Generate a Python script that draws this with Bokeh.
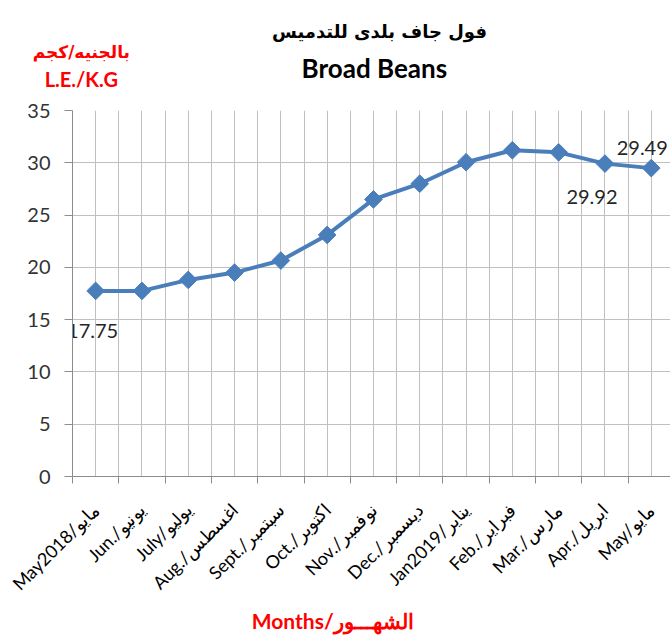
import math
from bokeh.plotting import figure
from bokeh.layouts import column
from bokeh.models import Range1d, FixedTicker, Label, ColumnDataSource
from bokeh.core.properties import value
from bokeh.embed import file_html
from bokeh.resources import INLINE

months = ["May2018/مايو", "Jun./يونيو", "July/يوليو", "Aug./اغسطس", "Sept./سبتمبر",
          "Oct./اكتوبر", "Nov./نوفمبر", "Dec./ديسمبر", "Jan2019/يناير", "Feb./فبراير",
          "Mar./مارس", "Apr./ابريل", "May/مايو"]
prices = [17.75, 17.75, 18.8, 19.5, 20.65, 23.1, 26.5, 28.0, 30.05, 31.2, 31.0, 29.92, 29.49]
labelled_idx = [0, 11, 12]
labelled_text = ["17.75", "29.92", "29.49"]
y_ticks = [0, 5, 10, 15, 20, 25, 30, 35]

title_ar = "فول جاف بلدى للتدميس"
title_en = "Broad Beans"
unit_ar = "بالجنيه/كجم"
unit_en = "L.E./K.G"
x_title = "Months/الشهـــور"

xs = list(range(len(months)))

W = 670
PX_PER_CAT = 46.3
PX_PER_UNIT = 366 / 35.0
X0 = -0.5
X1 = X0 + (W - 72) / PX_PER_CAT
XL = X0 - 72 / PX_PER_CAT
TOP_PAD = 12

GRID = "#c0c0c0"
AXIS = "#8c8c8c"
BLUE = "#4a7ebb"
RED = "#ff0000"


def no_align(fig):
    if "frame_align" in fig.properties():
        fig.frame_align = False


# ---------- header (titles) ----------
head_h = 110 - TOP_PAD
head = figure(width=W, height=head_h, output_backend="svg", toolbar_location=None, title=None,
              x_range=Range1d(XL, X1),
              y_range=Range1d(35 + TOP_PAD / PX_PER_UNIT, 35 + 110 / PX_PER_UNIT),
              x_axis_type=None, y_axis_type=None, min_border=0)
head.outline_line_color = None
head.grid.visible = False
no_align(head)


def add_label(fig, x, y, text, size, color, font="Lato"):
    fig.add_layout(Label(x=x, y=y, text=text, text_align="center", text_baseline="middle",
                         text_font=font, text_font_size=size, text_font_style="bold",
                         text_color=color))


add_label(head, 6.13, 42.55, title_ar, "18px", "black", "DejaVu Sans")
add_label(head, 6.02, 39.11, title_en, "26px", "black")
add_label(head, -0.31, 40.64, unit_ar, "17px", RED, "DejaVu Sans")
add_label(head, -0.31, 37.97, unit_en, "20px", RED)

# ---------- main chart ----------
p_main = figure(width=W, height=TOP_PAD + 366 + 130, output_backend="svg",
                toolbar_location=None, title=None,
                x_range=Range1d(X0, X1), y_range=Range1d(0, 35),
                min_border_left=72, min_border_right=0, min_border_top=TOP_PAD,
                min_border_bottom=130)
p_main.outline_line_color = None

p_main.xaxis.ticker = FixedTicker(ticks=xs, minor_ticks=[i - 0.5 for i in range(len(months) + 1)])
p_main.xaxis.major_label_overrides = {i: m for i, m in enumerate(months)}
p_main.xaxis.major_label_orientation = math.pi / 4
p_main.xaxis.major_tick_line_color = None
p_main.xaxis.major_tick_out = 0
p_main.xaxis.major_tick_in = 0
p_main.xaxis.minor_tick_out = 7
p_main.xaxis.minor_tick_in = 0
p_main.xaxis.minor_tick_line_color = AXIS
p_main.xaxis.axis_line_color = AXIS
p_main.xaxis.major_label_standoff = 23
p_main.xaxis.major_label_text_font = "Lato"
p_main.xaxis.major_label_text_font_size = "18px"
p_main.xaxis.major_label_text_color = "black"

p_main.yaxis.ticker = FixedTicker(ticks=y_ticks)
p_main.yaxis.minor_tick_line_color = None
p_main.yaxis.major_tick_out = 8
p_main.yaxis.major_tick_in = 0
p_main.yaxis.major_tick_line_color = AXIS
p_main.yaxis.axis_line_color = AXIS
p_main.yaxis.major_label_standoff = 14
p_main.yaxis.major_label_text_font = "Lato"
p_main.yaxis.major_label_text_font_size = "20px"
p_main.yaxis.major_label_text_color = "#333333"

p_main.xgrid.ticker = p_main.xaxis.ticker
p_main.xgrid.grid_line_color = GRID
p_main.xgrid.minor_grid_line_color = GRID
p_main.ygrid.ticker = p_main.yaxis.ticker
p_main.ygrid.grid_line_color = GRID

p_main.line(xs, prices, line_color=BLUE, line_width=4)
p_main.scatter(xs, prices, marker="square", angle=math.pi / 4, size=12.5,
               fill_color=BLUE, line_color=BLUE)

lab_src = ColumnDataSource(dict(
    x=labelled_idx,
    y=[prices[i] for i in labelled_idx],
    t=labelled_text,
    dx=[-3, -13, -9],
    dy=[40, 33, -20],
))
p_main.text(x="x", y="y", text="t", x_offset="dx", y_offset="dy", source=lab_src,
            text_align="center", text_baseline="middle",
            text_font=value("Lato"), text_font_size="20px", text_color="#262626")

# ---------- footer (x title) ----------
main_bottom_page = 110 + 366 + 130
foot_h = 635 - main_bottom_page
y_foot_top = (476 - main_bottom_page) / PX_PER_UNIT
foot = figure(width=W, height=foot_h, output_backend="svg", toolbar_location=None, title=None,
              x_range=Range1d(XL, X1),
              y_range=Range1d(y_foot_top - foot_h / PX_PER_UNIT, y_foot_top),
              x_axis_type=None, y_axis_type=None, min_border=0)
foot.outline_line_color = None
foot.grid.visible = False
no_align(foot)
add_label(foot, 5.12, -13.77, x_title, "21px", RED)

p = column(head, p_main, foot, spacing=0)

open("out.html", "w").write(file_html(p, INLINE))
